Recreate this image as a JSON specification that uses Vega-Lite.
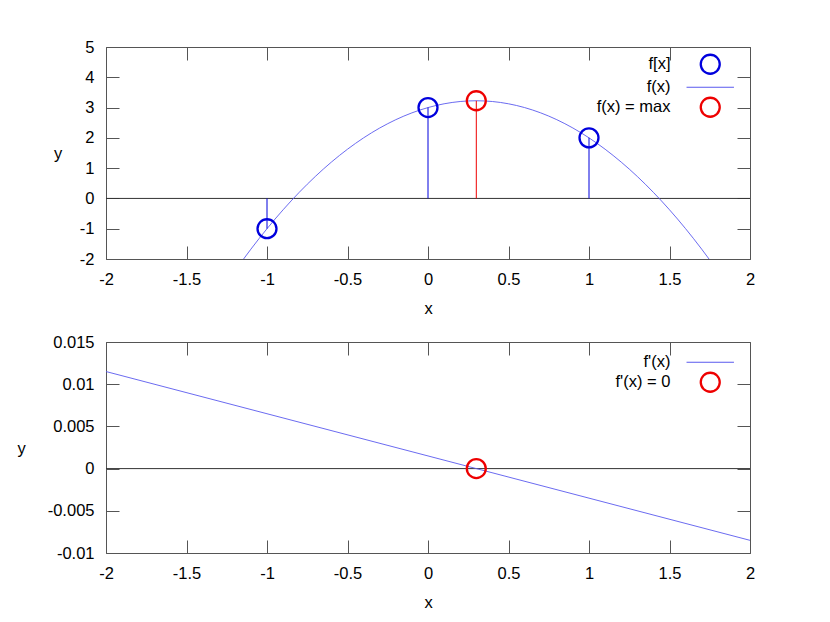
{
  "$schema": "https://vega.github.io/schema/vega-lite/v6.json",
  "background": "white",
  "padding": {"left": 16, "top": 38, "right": 10, "bottom": 5},
  "config": {
    "font": "Liberation Sans",
    "view": {"stroke": "#555555", "strokeWidth": 1},
    "axis": {"grid": false, "domain": false, "tickColor": "#555555", "tickWidth": 1, "labelFont": "Liberation Sans", "labelFontSize": 16.5, "labelColor": "#000000", "titleFont": "Liberation Sans", "titleFontSize": 16.5, "titleFontWeight": "normal", "titleColor": "#000000", "labelFlush": false, "labelOverlap": false},
    "legend": {"labelFont": "Liberation Sans", "labelFontSize": 16.5, "labelColor": "#000000", "labelAlign": "right", "labelOffset": -48, "symbolSize": 360, "symbolStrokeWidth": 2.3, "rowPadding": -3, "padding": 0}
  },
  "datasets": {
    "curve": [
      {"x": -1.2, "y": -2.4, "series": "f(x)"},
      {"x": -1.1, "y": -1.675, "series": "f(x)"},
      {"x": -1.0, "y": -1.0, "series": "f(x)"},
      {"x": -0.9, "y": -0.375, "series": "f(x)"},
      {"x": -0.8, "y": 0.2, "series": "f(x)"},
      {"x": -0.7, "y": 0.725, "series": "f(x)"},
      {"x": -0.6, "y": 1.2, "series": "f(x)"},
      {"x": -0.5, "y": 1.625, "series": "f(x)"},
      {"x": -0.4, "y": 2.0, "series": "f(x)"},
      {"x": -0.3, "y": 2.325, "series": "f(x)"},
      {"x": -0.2, "y": 2.6, "series": "f(x)"},
      {"x": -0.1, "y": 2.825, "series": "f(x)"},
      {"x": 0.0, "y": 3.0, "series": "f(x)"},
      {"x": 0.1, "y": 3.125, "series": "f(x)"},
      {"x": 0.2, "y": 3.2, "series": "f(x)"},
      {"x": 0.3, "y": 3.225, "series": "f(x)"},
      {"x": 0.4, "y": 3.2, "series": "f(x)"},
      {"x": 0.5, "y": 3.125, "series": "f(x)"},
      {"x": 0.6, "y": 3.0, "series": "f(x)"},
      {"x": 0.7, "y": 2.825, "series": "f(x)"},
      {"x": 0.8, "y": 2.6, "series": "f(x)"},
      {"x": 0.9, "y": 2.325, "series": "f(x)"},
      {"x": 1.0, "y": 2.0, "series": "f(x)"},
      {"x": 1.1, "y": 1.625, "series": "f(x)"},
      {"x": 1.2, "y": 1.2, "series": "f(x)"},
      {"x": 1.3, "y": 0.725, "series": "f(x)"},
      {"x": 1.4, "y": 0.2, "series": "f(x)"},
      {"x": 1.5, "y": -0.375, "series": "f(x)"},
      {"x": 1.6, "y": -1.0, "series": "f(x)"},
      {"x": 1.7, "y": -1.675, "series": "f(x)"},
      {"x": 1.8, "y": -2.4, "series": "f(x)"}
    ],
    "points": [
      {"x": -1, "y": -1, "series": "f[x]"},
      {"x": 0, "y": 3, "series": "f[x]"},
      {"x": 1, "y": 2, "series": "f[x]"},
      {"x": 0.3, "y": 3.225, "series": "f(x) = max"}
    ],
    "deriv": [
      {"x": -2, "y": 0.0115, "series": "f'(x)"},
      {"x": 2, "y": -0.0085, "series": "f'(x)"}
    ],
    "zero": [
      {"x": 0.3, "y": 0, "series": "f'(x) = 0"}
    ],
    "baseline": [
      {"y": 0}
    ]
  },
  "bounds": "flush",
  "spacing": 83,
  "resolve": {"scale": {"color": "independent", "shape": "independent"}, "legend": {"color": "independent", "shape": "independent"}},
  "vconcat": [
    {
      "width": 644,
      "height": 212,
      "resolve": {"axis": {"x": "independent", "y": "independent"}},
      "layer": [
        {
          "data": {"name": "baseline"},
          "mark": {"type": "rule", "color": "#333333", "strokeWidth": 1},
          "encoding": {"y": {"field": "y", "type": "quantitative", "scale": {"domain": [-2, 5], "nice": false, "zero": false}, "axis": null}}
        },
        {
          "data": {"name": "curve"},
          "mark": {"type": "line", "strokeWidth": 0.9, "clip": true, "interpolate": "monotone"},
          "encoding": {
            "x": {"field": "x", "type": "quantitative", "scale": {"domain": [-2, 2], "nice": false, "zero": false},
              "axis": {"values": [-2, -1.5, -1, -0.5, 0, 0.5, 1, 1.5, 2], "tickSize": -13, "labelPadding": 25, "labelExpr": "'' + datum.value", "title": "x", "titleY": 54, "titleBaseline": "alphabetic"}},
            "y": {"field": "y", "type": "quantitative", "scale": {"domain": [-2, 5], "nice": false, "zero": false},
              "axis": {"values": [-2, -1, 0, 1, 2, 3, 4, 5], "tickSize": -13, "labelPadding": 25, "labelExpr": "'' + datum.value", "title": "y", "titleAngle": 0, "titleX": -48.5, "titleY": 111, "titleAlign": "center", "titleBaseline": "alphabetic"}},
            "color": {"field": "series", "type": "nominal", "scale": {"domain": ["f[x]", "f(x)", "f(x) = max"], "range": ["#0000dd", "#5a5aee", "#ee0000"]},
              "legend": {"title": null, "orient": "none", "legendX": 596, "legendY": 9,
                "encode": {"symbols": {"update": {"strokeWidth": {"signal": "datum.value === 'f(x)' ? 1 : 2.3"}}}}}}
          }
        },
        {
          "data": {"name": "points"},
          "mark": {"type": "rule", "strokeWidth": 1},
          "encoding": {
            "x": {"field": "x", "type": "quantitative", "scale": {"domain": [-2, 2], "nice": false, "zero": false},
              "axis": {"orient": "top", "values": [-2, -1.5, -1, -0.5, 0, 0.5, 1, 1.5, 2], "labels": false, "tickSize": -13, "title": null}},
            "y": {"field": "y", "type": "quantitative", "scale": {"domain": [-2, 5], "nice": false, "zero": false},
              "axis": {"orient": "right", "values": [-2, -1, 0, 1, 2, 3, 4, 5], "labels": false, "tickSize": -13, "title": null}},
            "y2": {"datum": 0},
            "color": {"field": "series", "type": "nominal", "scale": {"domain": ["f[x]", "f(x)", "f(x) = max"], "range": ["#5a5aee", "#5a5aee", "#ee5555"]}, "legend": null}
          }
        },
        {
          "data": {"name": "points"},
          "mark": {"type": "point", "filled": false, "size": 360, "strokeWidth": 2.3, "opacity": 1},
          "encoding": {
            "x": {"field": "x", "type": "quantitative", "scale": {"domain": [-2, 2], "nice": false, "zero": false}, "axis": null},
            "y": {"field": "y", "type": "quantitative", "scale": {"domain": [-2, 5], "nice": false, "zero": false}, "axis": null},
            "color": {"field": "series", "type": "nominal", "scale": {"domain": ["f[x]", "f(x)", "f(x) = max"], "range": ["#0000dd", "#5a5aee", "#ee0000"]},
              "legend": {"title": null, "orient": "none", "legendX": 596, "legendY": 9,
                "encode": {"symbols": {"update": {"strokeWidth": {"signal": "datum.value === 'f(x)' ? 1 : 2.3"}}}}}},
            "shape": {"field": "series", "type": "nominal", "scale": {"domain": ["f[x]", "f(x)", "f(x) = max"], "range": ["circle", "M-2.5,0L2.5,0", "circle"]},
              "legend": {"title": null, "orient": "none", "legendX": 596, "legendY": 9,
                "encode": {"symbols": {"update": {"strokeWidth": {"signal": "datum.value === 'f(x)' ? 1 : 2.3"}}}}}}
          }
        }
      ]
    },
    {
      "width": 644,
      "height": 211,
      "resolve": {"axis": {"x": "independent", "y": "independent"}},
      "layer": [
        {
          "data": {"name": "baseline"},
          "mark": {"type": "rule", "color": "#333333", "strokeWidth": 1},
          "encoding": {"y": {"field": "y", "type": "quantitative", "scale": {"domain": [-0.01, 0.015], "nice": false, "zero": false}, "axis": null}}
        },
        {
          "data": {"name": "deriv"},
          "mark": {"type": "line", "strokeWidth": 0.9, "clip": true},
          "encoding": {
            "x": {"field": "x", "type": "quantitative", "scale": {"domain": [-2, 2], "nice": false, "zero": false},
              "axis": {"values": [-2, -1.5, -1, -0.5, 0, 0.5, 1, 1.5, 2], "tickSize": -13, "labelPadding": 25, "labelExpr": "'' + datum.value", "title": "x", "titleY": 54, "titleBaseline": "alphabetic"}},
            "y": {"field": "y", "type": "quantitative", "scale": {"domain": [-0.01, 0.015], "nice": false, "zero": false},
              "axis": {"values": [-0.01, -0.005, 0, 0.005, 0.01, 0.015], "tickSize": -13, "labelPadding": 25, "labelExpr": "'' + datum.value", "title": "y", "titleAngle": 0, "titleX": -85, "titleY": 111, "titleAlign": "center", "titleBaseline": "alphabetic"}},
            "color": {"field": "series", "type": "nominal", "scale": {"domain": ["f'(x)", "f'(x) = 0"], "range": ["#5a5aee", "#ee0000"]},
              "legend": {"title": null, "orient": "none", "legendX": 596, "legendY": 12,
                "encode": {"symbols": {"update": {"strokeWidth": {"signal": "datum.value === \"f'(x)\" ? 1 : 2.3"}}}}}}
          }
        },
        {
          "data": {"name": "zero"},
          "mark": {"type": "point", "filled": false, "size": 360, "strokeWidth": 2.3, "opacity": 1},
          "encoding": {
            "x": {"field": "x", "type": "quantitative", "scale": {"domain": [-2, 2], "nice": false, "zero": false},
              "axis": {"orient": "top", "values": [-2, -1.5, -1, -0.5, 0, 0.5, 1, 1.5, 2], "labels": false, "tickSize": -13, "title": null}},
            "y": {"field": "y", "type": "quantitative", "scale": {"domain": [-0.01, 0.015], "nice": false, "zero": false},
              "axis": {"orient": "right", "values": [-0.01, -0.005, 0, 0.005, 0.01, 0.015], "labels": false, "tickSize": -13, "title": null}},
            "color": {"field": "series", "type": "nominal", "scale": {"domain": ["f'(x)", "f'(x) = 0"], "range": ["#5a5aee", "#ee0000"]},
              "legend": {"title": null, "orient": "none", "legendX": 596, "legendY": 12,
                "encode": {"symbols": {"update": {"strokeWidth": {"signal": "datum.value === \"f'(x)\" ? 1 : 2.3"}}}}}},
            "shape": {"field": "series", "type": "nominal", "scale": {"domain": ["f'(x)", "f'(x) = 0"], "range": ["M-2.5,0L2.5,0", "circle"]},
              "legend": {"title": null, "orient": "none", "legendX": 596, "legendY": 12,
                "encode": {"symbols": {"update": {"strokeWidth": {"signal": "datum.value === \"f'(x)\" ? 1 : 2.3"}}}}}}
          }
        }
      ]
    }
  ]
}
